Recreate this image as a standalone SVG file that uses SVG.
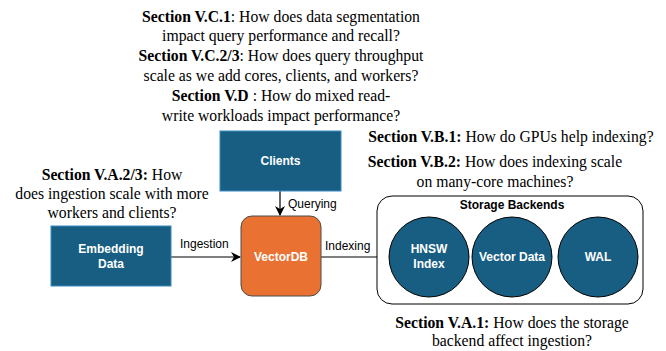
<svg xmlns="http://www.w3.org/2000/svg" width="666" height="351" viewBox="0 0 666 351">
  <defs>
    <marker id="arrow" viewBox="0 0 10 10" refX="9" refY="5" markerWidth="10" markerHeight="10" markerUnits="userSpaceOnUse" orient="auto">
      <path d="M0,0 L10,5 L0,10 L3,5 Z" fill="#000"/>
    </marker>
    <style>
      .q { font-family: "Liberation Serif", "Times New Roman", serif; font-size: 15.7px; fill: #000; text-anchor: middle; }
      .q tspan.b { font-weight: bold; }
      .lbl { font-family: "Liberation Sans", Arial, sans-serif; font-size: 12px; fill: #000; }
      .nt { font-family: "Liberation Sans", Arial, sans-serif; font-size: 12px; font-weight: bold; fill: #fff; text-anchor: middle; }
      .blue { fill: #175E82; stroke: #3D8BC4; stroke-width: 1; }
      .circ { fill: #175E82; stroke: #000; stroke-width: 1; }
      .edge { fill: none; stroke: #000; stroke-width: 1.2; }
    </style>
  </defs>
  <rect width="666" height="351" fill="#fff"/>

  <!-- research questions -->
  <g id="questions-query">
    <text class="q" x="281" y="22"><tspan class="b">Section V.C.1</tspan>: How does data segmentation</text>
    <text class="q" x="281" y="41">impact query performance and recall?</text>
    <text class="q" x="281" y="61"><tspan class="b">Section V.C.2/3</tspan>: How does query throughput</text>
    <text class="q" x="281" y="81">scale as we add cores, clients, and workers?</text>
    <text class="q" x="281" y="101"><tspan class="b">Section V.D </tspan>: How do mixed read-</text>
    <text class="q" x="281" y="121">write workloads impact performance?</text>
  </g>
  <g id="questions-index">
    <text class="q" x="511" y="142"><tspan class="b">Section V.B.1:</tspan> How do GPUs help indexing?</text>
    <text class="q" x="495" y="167"><tspan class="b">Section V.B.2:</tspan> How does indexing scale</text>
    <text class="q" x="495" y="187">on many-core machines?</text>
  </g>
  <g id="questions-ingest">
    <text class="q" x="112" y="180"><tspan class="b">Section V.A.2/3:</tspan> How</text>
    <text class="q" x="112" y="199">does ingestion scale with more</text>
    <text class="q" x="112" y="218">workers and clients?</text>
  </g>
  <g id="questions-storage">
    <text class="q" x="512" y="328"><tspan class="b">Section V.A.1:</tspan> How does the storage</text>
    <text class="q" x="512" y="346">backend affect ingestion?</text>
  </g>

  <!-- connectors -->
  <g id="connectors">
    <line class="edge" x1="280" y1="191" x2="280" y2="215" marker-end="url(#arrow)"/>
    <text class="lbl" x="288" y="208">Querying</text>
    <line class="edge" x1="171" y1="257" x2="240" y2="257" marker-end="url(#arrow)"/>
    <text class="lbl" x="180" y="248">Ingestion</text>
    <line class="edge" x1="321" y1="257" x2="388" y2="257" marker-end="url(#arrow)"/>
    <text class="lbl" x="325" y="250">Indexing</text>
  </g>

  <g id="clients">
    <rect class="blue" x="220" y="131" width="121" height="60"/>
    <text class="nt" x="280.5" y="165">Clients</text>
  </g>

  <g id="embedding-data">
    <rect class="blue" x="51" y="226" width="120" height="60"/>
    <text class="nt" x="111" y="253">Embedding</text>
    <text class="nt" x="111" y="268">Data</text>
  </g>

  <g id="vectordb">
    <rect x="241" y="216" width="80" height="80" rx="11" ry="11" fill="#E97132" stroke="#4D4D4D" stroke-width="1"/>
    <text class="nt" x="281" y="261">VectorDB</text>
  </g>

  <g id="storage-backends">
    <rect x="377" y="196" width="266" height="108" rx="15" ry="15" fill="#fff" stroke="#000" stroke-width="1"/>
    <text class="nt" x="512" y="209" style="fill:#000">Storage Backends</text>
  </g>

  <g id="hnsw-index">
    <circle class="circ" cx="429" cy="257" r="40"/>
    <text class="nt" x="429" y="253">HNSW</text>
    <text class="nt" x="429" y="268">Index</text>
  </g>

  <g id="vector-data">
    <circle class="circ" cx="512" cy="257" r="40"/>
    <text class="nt" x="512" y="261">Vector Data</text>
  </g>

  <g id="wal">
    <circle class="circ" cx="598" cy="257" r="40"/>
    <text class="nt" x="598" y="261">WAL</text>
  </g>
</svg>
